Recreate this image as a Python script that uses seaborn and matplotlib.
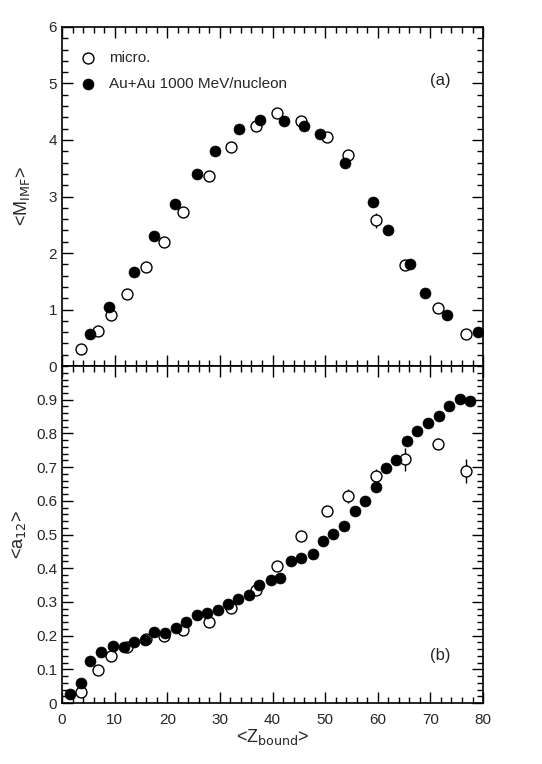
import numpy as np
import pandas as pd
import matplotlib
matplotlib.use("Agg")
import matplotlib.pyplot as plt
import seaborn as sns

# data
z_micro = [3.7, 6.9, 9.4, 12.3, 16.0, 19.4, 22.9, 28.0, 32.2, 36.8, 40.9, 45.4, 50.3, 54.3, 59.6, 65.2, 71.4, 76.8]
m_micro = [0.30, 0.62, 0.90, 1.27, 1.75, 2.20, 2.72, 3.37, 3.88, 4.25, 4.47, 4.34, 4.06, 3.73, 2.58, 1.78, 1.02, 0.56]
m_micro_err = [0, 0, 0, 0, 0, 0, 0, 0, 0, 0, 0, 0.05, 0, 0.10, 0.13, 0.03, 0, 0]
a_micro = [0.034, 0.098, 0.139, 0.165, 0.189, 0.199, 0.218, 0.241, 0.281, 0.335, 0.406, 0.495, 0.569, 0.614, 0.674, 0.723, 0.770, 0.688]
a_micro_err = [0, 0, 0, 0, 0, 0, 0, 0, 0, 0, 0, 0, 0, 0.02, 0.02, 0.035, 0.015, 0.035]

z_au_m = [5.4, 8.9, 13.6, 17.5, 21.5, 25.7, 29.1, 33.6, 37.6, 42.1, 45.9, 49.0, 53.8, 59.0, 62.0, 66.1, 69.0, 73.1, 79.0]
m_au = [0.57, 1.04, 1.66, 2.30, 2.87, 3.40, 3.80, 4.20, 4.35, 4.34, 4.25, 4.10, 3.60, 2.90, 2.40, 1.80, 1.30, 0.90, 0.60]

z_au_a = [1.5, 3.6, 5.4, 7.5, 9.6, 11.7, 13.6, 15.7, 17.5, 19.6, 21.6, 23.6, 25.6, 27.5, 29.6,
          31.6, 33.5, 35.5, 37.5, 39.7, 41.5, 43.5, 45.5, 47.6, 49.5, 51.4, 53.6, 55.7, 57.6,
          59.6, 61.6, 63.5, 65.5, 67.4, 69.5, 71.6, 73.6, 75.6, 77.6]
a_au = [0.026, 0.060, 0.124, 0.150, 0.170, 0.167, 0.182, 0.187, 0.211, 0.208, 0.223, 0.241, 0.261, 0.268, 0.276,
        0.295, 0.310, 0.320, 0.350, 0.365, 0.370, 0.421, 0.431, 0.441, 0.480, 0.501, 0.526, 0.570, 0.600,
        0.641, 0.696, 0.722, 0.777, 0.806, 0.832, 0.852, 0.881, 0.901, 0.896]

lab_micro = "micro."
lab_au = "Au+Au 1000 MeV/nucleon"

sns.set_style("ticks")
plt.rcParams['font.family'] = ['Liberation Sans', 'DejaVu Sans']
plt.rcParams['font.size'] = 11

fig = plt.figure(figsize=(5.42, 7.64), dpi=100)
ax1 = fig.add_axes([0.1144, 0.5209, 0.7768, 0.4438])
ax2 = fig.add_axes([0.1144, 0.0798, 0.7768, 0.4411])

ms = 62
df_mm = pd.DataFrame({"z": z_micro, "m": m_micro, "a": a_micro})
df_am = pd.DataFrame({"z": z_au_m, "m": m_au})
df_aa = pd.DataFrame({"z": z_au_a, "a": a_au})

# panel (a)
ax1.errorbar(z_micro, m_micro, yerr=m_micro_err, fmt="none", ecolor="black", elinewidth=1, zorder=2)
sns.scatterplot(data=df_mm, x="z", y="m", ax=ax1, marker="o", s=ms, facecolor="white",
                edgecolor="black", linewidth=1.0, label=lab_micro, zorder=3)
sns.scatterplot(data=df_am, x="z", y="m", ax=ax1, marker="o", s=ms, color="black",
                edgecolor="black", linewidth=0.5, label=lab_au, zorder=4)
ax1.set_xlim(0, 80)
ax1.set_ylim(0, 6)
ax1.set_xlabel("")
ax1.set_ylabel(r"<M$_{\rm IMF}$>", fontsize=13, labelpad=12)
ax1.set_xticks(np.arange(0, 81, 10))
ax1.set_xticks(np.arange(0, 81, 2), minor=True)
ax1.set_yticks(np.arange(0, 7, 1))
ax1.set_yticks(np.arange(0, 6.01, 0.2), minor=True)
ax1.tick_params(axis="x", labelbottom=False)
ax1.text(0.898, 0.843, "(a)", transform=ax1.transAxes, ha="center", va="center", fontsize=12)
leg = ax1.legend(loc="upper left", bbox_to_anchor=(0.0, 0.96), frameon=False, fontsize=11,
                 handletextpad=0.4, labelspacing=0.75, borderaxespad=0.3)

# panel (b)
ax2.errorbar(z_micro, a_micro, yerr=a_micro_err, fmt="none", ecolor="black", elinewidth=1, zorder=2)
sns.scatterplot(data=df_mm, x="z", y="a", ax=ax2, marker="o", s=ms, facecolor="white",
                edgecolor="black", linewidth=1.0, zorder=3, legend=False)
sns.scatterplot(data=df_aa, x="z", y="a", ax=ax2, marker="o", s=ms, color="black",
                edgecolor="black", linewidth=0.5, zorder=4, legend=False)
ax2.set_xlim(0, 80)
ax2.set_ylim(0, 1.0)
ax2.set_xlabel(r"<Z$_{\rm bound}$>", fontsize=13, labelpad=0)
ax2.set_ylabel(r"<a$_{12}$>", fontsize=13, labelpad=6)
ax2.set_xticks(np.arange(0, 81, 10))
ax2.set_xticks(np.arange(0, 81, 2), minor=True)
ax2.set_yticks(np.arange(0, 0.91, 0.1))
ax2.set_yticklabels(["0"] + [f"{v:.1f}" for v in np.arange(0.1, 0.91, 0.1)])
ax2.set_yticks(np.arange(0, 1.001, 0.02), minor=True)
ax2.text(0.898, 0.142, "(b)", transform=ax2.transAxes, ha="center", va="center", fontsize=12)

for ax in (ax1, ax2):
    ax.tick_params(which="both", direction="in", top=True, right=True, color="black", labelsize=11)
    ax.tick_params(which="major", length=8, width=1)
    ax.tick_params(which="minor", length=4, width=1)
    ax.tick_params(axis="x", pad=7)
    for sp in ax.spines.values():
        sp.set_linewidth(1.2)
        sp.set_color("black")

fig.savefig("out.png", dpi=100)
